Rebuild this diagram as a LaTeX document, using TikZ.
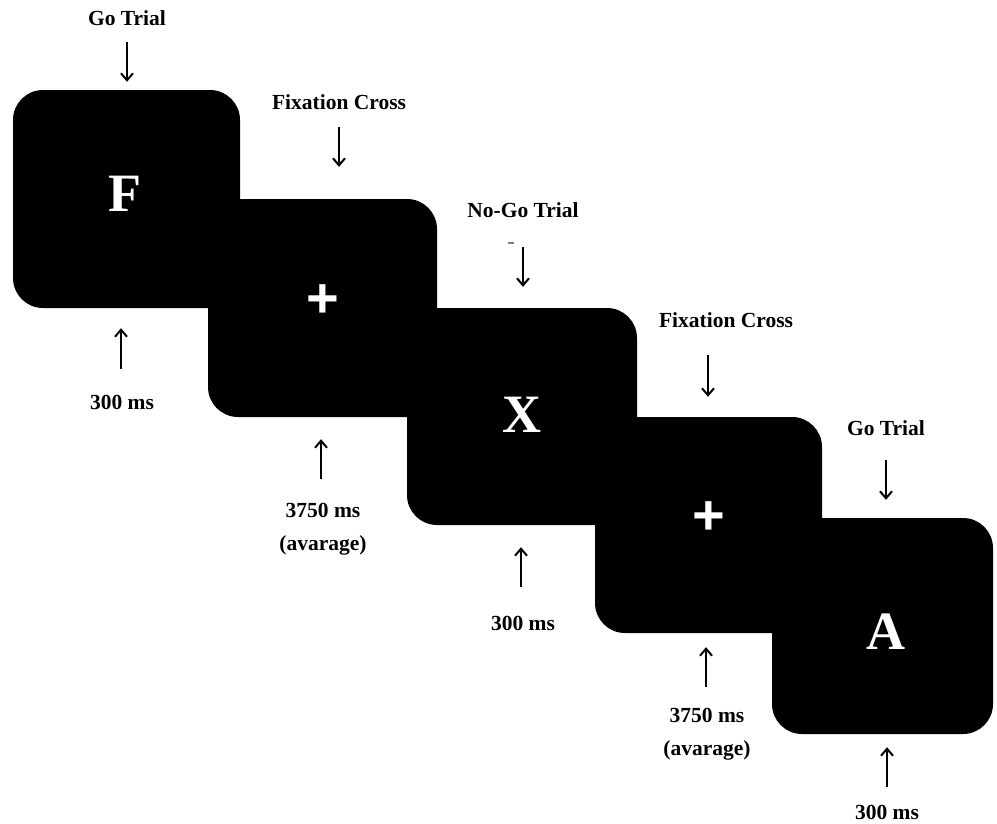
\documentclass[tikz,border=0pt]{standalone}
\usepackage{fontspec}
\setmainfont{Liberation Serif}
\newfontfamily\plusfont{Liberation Sans}
\usetikzlibrary{arrows.meta}
\begin{document}
\begin{tikzpicture}[x=1pt,y=-1pt,
  screen/.style={rectangle, fill=black, rounded corners=30pt, inner sep=0pt},
  letter/.style={text=white, font=\fontsize{54}{54}\selectfont\bfseries, inner sep=0pt},
  plussign/.style={text=white, font=\plusfont\fontsize{56}{56}\selectfont\bfseries, inner sep=0pt},
  lbl/.style={font=\fontsize{21.5}{33}\selectfont\bfseries, align=center, inner sep=0pt},
  arr/.style={line width=2pt, -{Straight Barb[length=7pt,width=12pt,line width=2pt]}}
]
\useasboundingbox (0,0) rectangle (997,823);
% screens
\node[screen, minimum width=227pt, minimum height=218pt] (b1) at (126.5,199) {};
\node[screen, minimum width=229pt, minimum height=218pt] (b2) at (322.5,308) {};
\node[screen, minimum width=230pt, minimum height=217pt] (b3) at (522,416.5) {};
\node[screen, minimum width=227pt, minimum height=216pt] (b4) at (708.5,525) {};
\node[screen, minimum width=221pt, minimum height=216pt] (b5) at (882.5,626) {};
% stimuli
\node[letter] (s1) at (125,194) {F};
\node[plussign] (s2) at (322.5,301) {+};
\node[letter] (s3) at (522,415) {X};
\node[plussign] (s4) at (709,518) {+};
\node[letter] (s5) at (886,632) {A};
% top labels
\node[lbl] (t1) at (127,18) {Go Trial};
\node[lbl] (t2) at (339,102) {Fixation Cross};
\node[lbl] (t3) at (523,210) {No-Go Trial};
\node[lbl] (t4) at (726,320) {Fixation Cross};
\node[lbl] (t5) at (886,428) {Go Trial};
% bottom labels
\node[lbl] (d1) at (122,402) {300 ms};
\node[lbl] (d2) at (323,529) {3750 ms\\(avarage)};
\node[lbl] (d3) at (523,623) {300 ms};
\node[lbl] (d4) at (707,734) {3750 ms\\(avarage)};
\node[lbl] (d5) at (887,812) {300 ms};
% arrow start points
\coordinate (p1) at (127,42);
\coordinate (p2) at (339,127);
\coordinate (p3) at (523,247);
\coordinate (p4) at (708,355);
\coordinate (p5) at (886,460);
\coordinate (q1) at (121,369);
\coordinate (q2) at (321,479);
\coordinate (q3) at (521,587);
\coordinate (q4) at (706,687);
\coordinate (q5) at (887,787);
% top arrows
\draw[arr, shorten >=8pt] (p1) -- (p1 |- b1.north);
\draw[arr, shorten >=32pt] (p2) -- (p2 |- b2.north);
\draw[arr, shorten >=21pt] (p3) -- (p3 |- b3.north);
\draw[arr, shorten >=20pt] (p4) -- (p4 |- b4.north);
\draw[arr, shorten >=18pt] (p5) -- (p5 |- b5.north);
% bottom arrows
\draw[arr, shorten >=20pt] (q1) -- (q1 |- b1.south);
\draw[arr, shorten >=22pt] (q2) -- (q2 |- b2.south);
\draw[arr, shorten >=22pt] (q3) -- (q3 |- b3.south);
\draw[arr, shorten >=14pt] (q4) -- (q4 |- b4.south);
\draw[arr, shorten >=13pt] (q5) -- (q5 |- b5.south);
% small stray mark
\draw[gray, line width=1.5pt] (508,243) -- (514,243);
\end{tikzpicture}
\end{document}
